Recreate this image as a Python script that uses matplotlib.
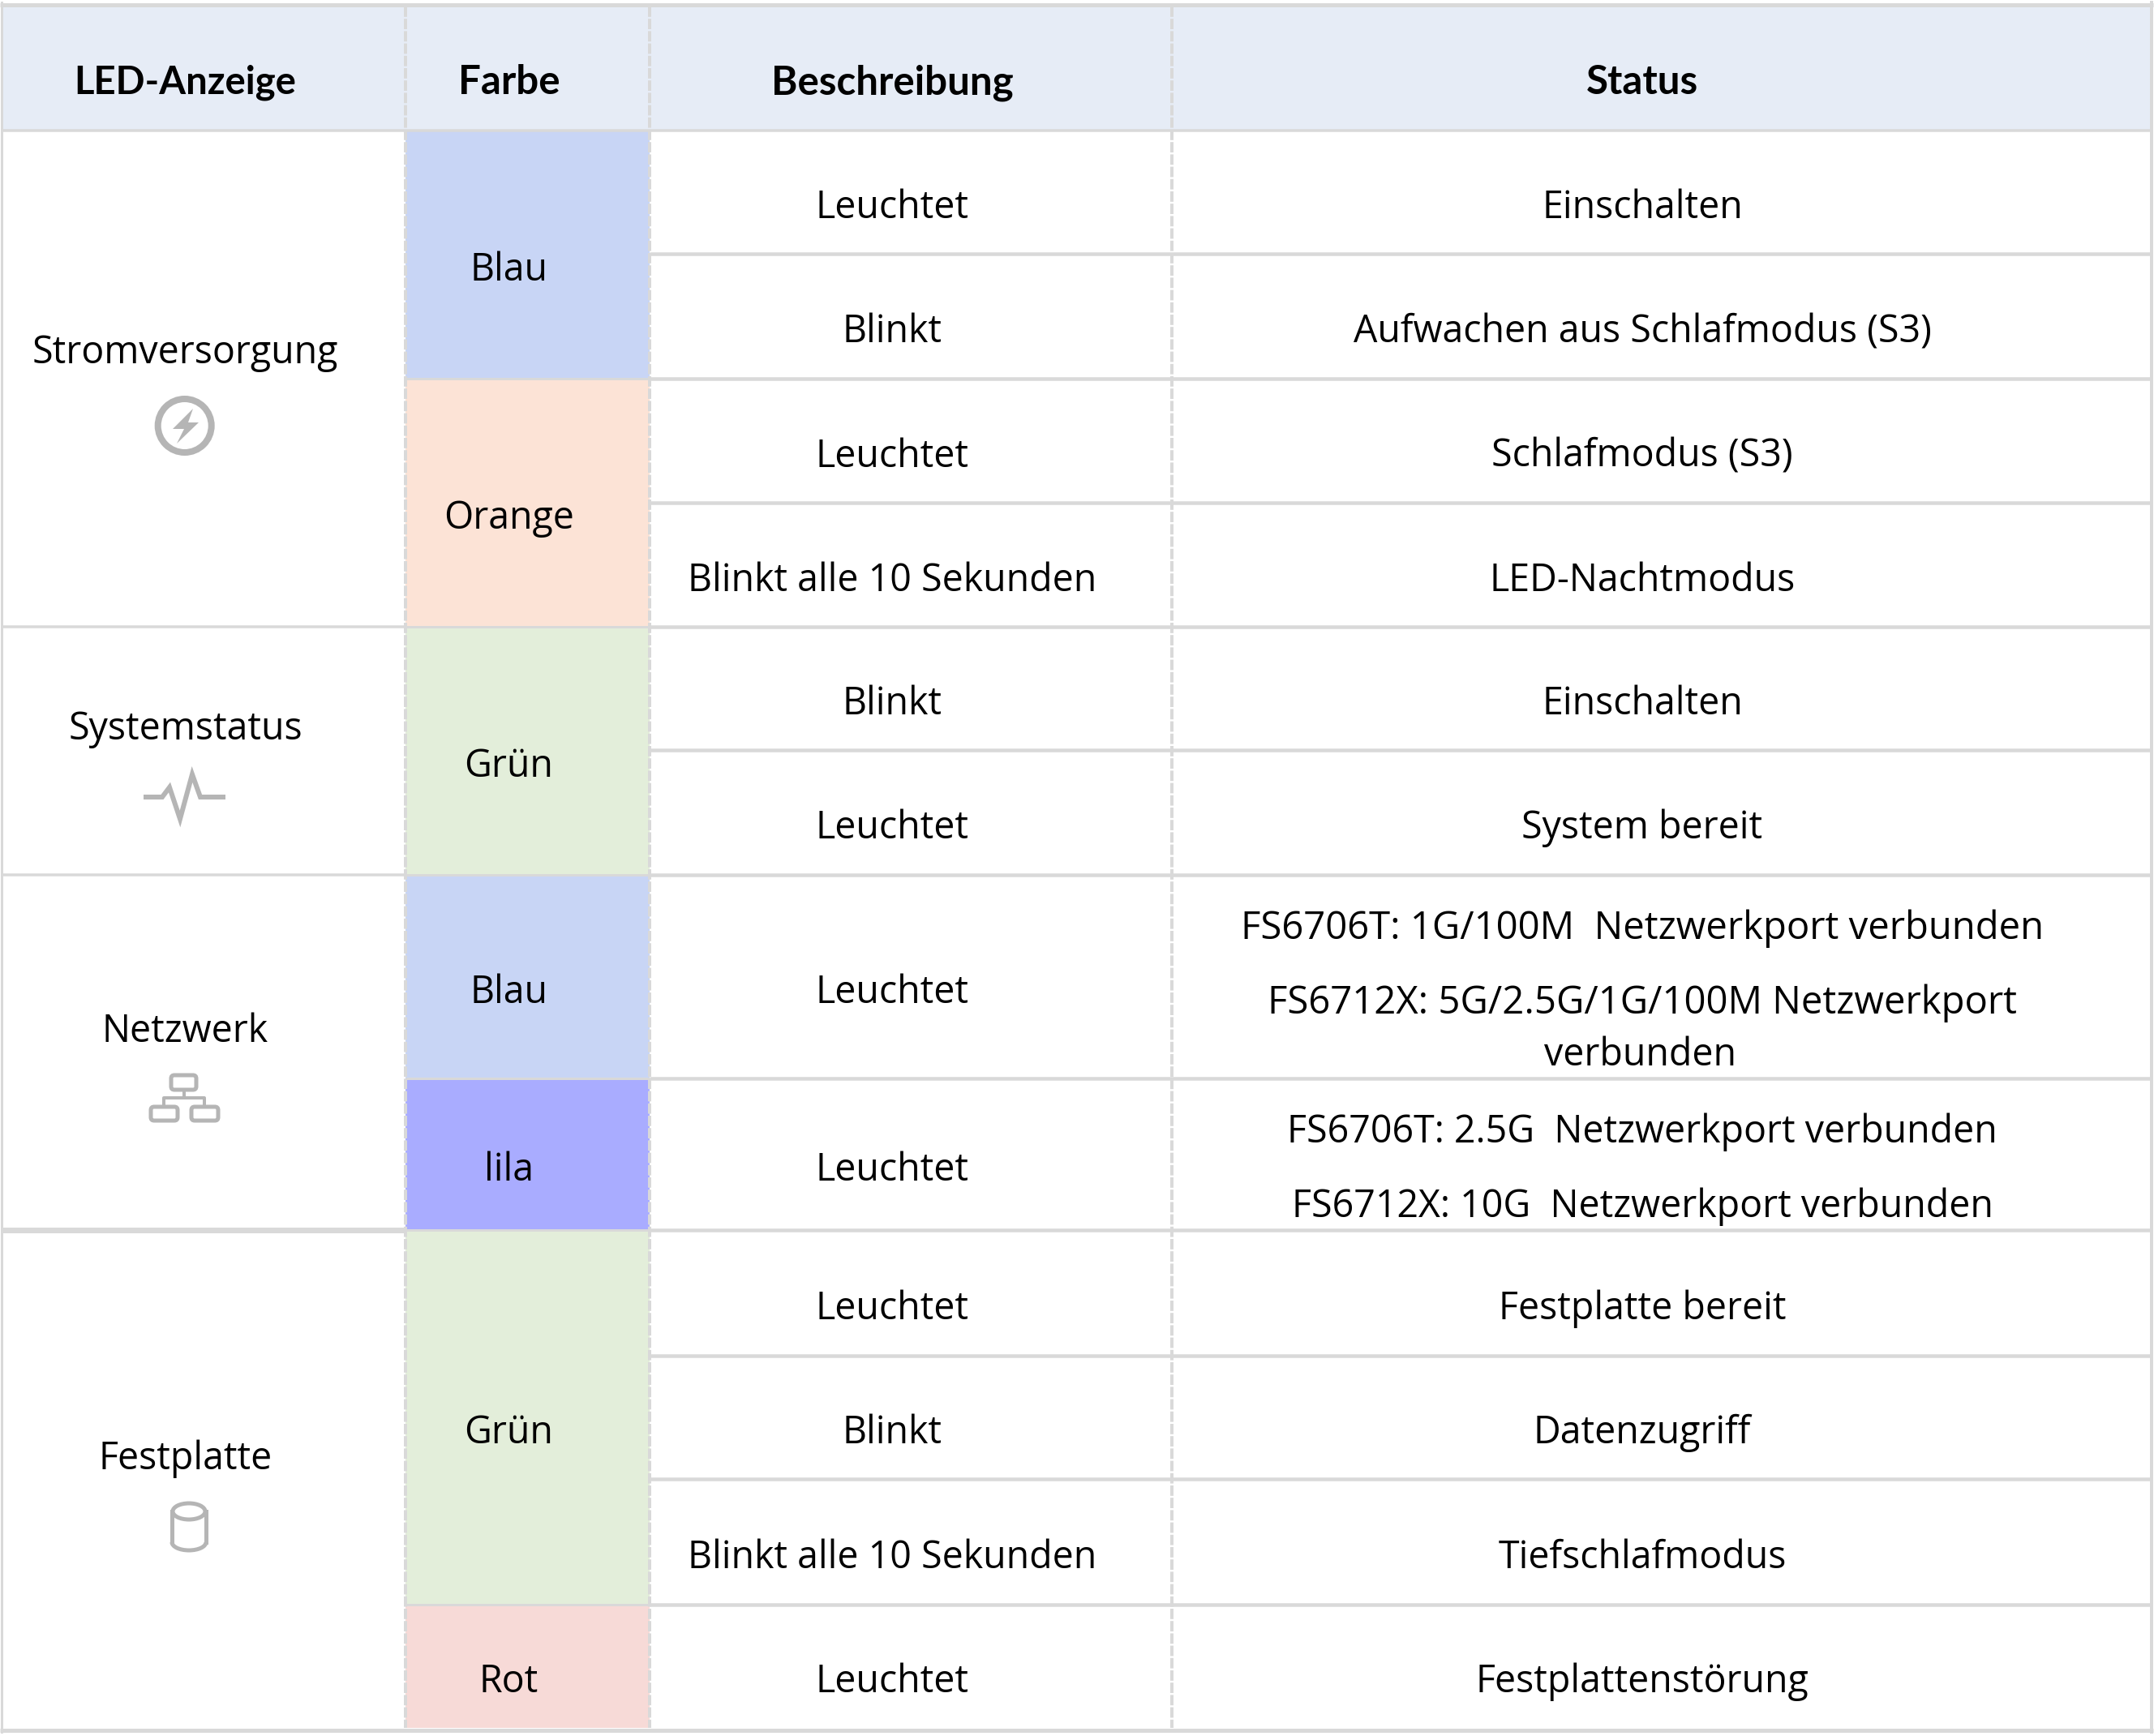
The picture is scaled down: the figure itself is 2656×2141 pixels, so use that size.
import matplotlib
matplotlib.use("Agg")
import matplotlib.pyplot as plt
from matplotlib.patches import Rectangle, Circle, Polygon, Ellipse, Arc, FancyBboxPatch

# table content
headers = ["LED-Anzeige", "Farbe", "Beschreibung", "Status"]
groups = ["Stromversorgung", "Systemstatus", "Netzwerk", "Festplatte"]
colors = ["Blau", "Orange", "Grün", "Blau", "lila", "Grün", "Rot"]
descriptions = ["Leuchtet", "Blinkt", "Leuchtet", "Blinkt alle 10 Sekunden", "Blinkt", "Leuchtet",
                "Leuchtet", "Leuchtet", "Leuchtet", "Blinkt", "Blinkt alle 10 Sekunden", "Leuchtet"]
status = ["Einschalten", "Aufwachen aus Schlafmodus (S3)", "Schlafmodus (S3)", "LED-Nachtmodus",
          "Einschalten", "System bereit", None, None,
          "Festplatte bereit", "Datenzugriff", "Tiefschlafmodus", "Festplattenstörung"]
status_multi = [
    ["FS6706T: 1G/100M  Netzwerkport verbunden", "FS6712X: 5G/2.5G/1G/100M Netzwerkport", "verbunden"],
    ["FS6706T: 2.5G  Netzwerkport verbunden", "FS6712X: 10G  Netzwerkport verbunden"],
]

# layout in pixels
W, H = 2656, 2141
col_x = [3, 500, 801, 1445, 2651]
row_y = [161, 313, 467, 620, 773, 925, 1079, 1330, 1517, 1672, 1824, 1979, 2131]
color_rows = [(0, 2), (2, 4), (4, 6), (6, 7), (7, 8), (8, 11), (11, 12)]
group_rows = [(0, 4), (4, 6), (6, 8), (8, 12)]
multi_y = [[1140, 1232, 1296], [1391, 1483]]
multi_dx = [[0, 0, -3], [0, 0]]
multi_sizes = [[34, 34, 33.5], [33.5, 33.5]]
group_text_y = [430, 894, 1267, 1794]
header_sizes = [34, 35.5, 35.5, 35.5]
fills = ["#C8D5F5", "#FCE3D6", "#E3EEDA", "#C8D5F5", "#A9ACFF", "#E3EEDA", "#F7DAD7"]

LINE = "#D9D9D9"
ICON = "#B5B5B5"
TEXT_SHIFT_X = -23
TEXT_SHIFT_Y = 14
FONT = "Open Sans"
SIZE = 33.5

plt.rcParams["font.family"] = FONT

fig = plt.figure(figsize=(W / 100, H / 100), dpi=100)
ax = fig.add_axes([0, 0, 1, 1])
ax.set_xlim(0, W)
ax.set_ylim(H, 0)
ax.axis("off")


def cell_text(x, y, s, size=SIZE):
    ax.text(x, y, s, ha="center", va="center_baseline", fontsize=size, color="black", zorder=5)


def hline(x0, x1, y, lw=4.5):
    ax.plot([x0, x1], [y, y], color=LINE, lw=lw * 0.72, solid_capstyle="butt", zorder=3)


# fills
ax.add_patch(Rectangle((col_x[0], 8), col_x[4] - col_x[0], row_y[0] - 8, fc="#E6ECF6", ec="none", zorder=1))
for (a, b), c in zip(color_rows, fills):
    ax.add_patch(Rectangle((col_x[1], row_y[a]), col_x[2] - col_x[1], row_y[b] - row_y[a], fc=c, ec="none", zorder=1))

# vertical dashed lines
for x in col_x[1:4]:
    ax.plot([x, x], [8, row_y[-1]], color=LINE, lw=4 * 0.72, linestyle=(0, (3.2, 0.6)), zorder=2)

# horizontal lines
hline(col_x[0], col_x[4], row_y[0], 3.5)
for y in row_y[1:-1]:
    hline(col_x[2], col_x[4], y)
for a, b in color_rows[:-1]:
    hline(col_x[1], col_x[2], row_y[b], 3)
for a, b in group_rows[:-1]:
    hline(col_x[0], col_x[1], row_y[b], 7 if b == 8 else 3.5)

# outer border
ax.plot([1.5, 1.5], [3, row_y[-1] + 5], color=LINE, lw=3 * 0.72, zorder=4)
ax.plot([col_x[4] + 2, col_x[4] + 2], [3, row_y[-1] + 5], color=LINE, lw=4 * 0.72, zorder=4)
hline(0, col_x[4] + 4, 5.5, 5)
hline(0, col_x[4] + 4, row_y[-1] + 2.5, 5)

# header
for i, h in enumerate(headers):
    cx = (col_x[i] + col_x[i + 1]) / 2 + TEXT_SHIFT_X
    ax.text(cx, 98, h, ha="center", va="center_baseline", fontsize=header_sizes[i], fontweight="bold",
            family="Lato", color="black", zorder=5)

# group labels
cx = (col_x[0] + col_x[1]) / 2 + TEXT_SHIFT_X
for g, y in zip(groups, group_text_y):
    cell_text(cx, y, g)

# colour labels
cx = (col_x[1] + col_x[2]) / 2 + TEXT_SHIFT_X
for (a, b), c in zip(color_rows, colors):
    cell_text(cx, (row_y[a] + row_y[b]) / 2 + TEXT_SHIFT_Y, c)

# descriptions and status
cx3 = (col_x[2] + col_x[3]) / 2 + TEXT_SHIFT_X
cx4 = (col_x[3] + col_x[4]) / 2 + TEXT_SHIFT_X
for i, (d, s) in enumerate(zip(descriptions, status)):
    y = (row_y[i] + row_y[i + 1]) / 2 + TEXT_SHIFT_Y
    cell_text(cx3, y, d)
    if s is not None:
        cell_text(cx4, y, s)
for lines, ys, dxs, sizes in zip(status_multi, multi_y, multi_dx, multi_sizes):
    for s, y, dx, size in zip(lines, ys, dxs, sizes):
        cell_text(cx4 + dx, y, s, size=size)

# power icon
ax.add_patch(Circle((227.7, 525), 33, fc="none", ec=ICON, lw=8 * 0.72, zorder=4))
bolt = [(238, 504), (213, 529), (227, 529), (218, 547), (245, 521), (232, 521)]
ax.add_patch(Polygon(bolt, closed=True, fc=ICON, ec="none", zorder=4))

# pulse icon
pulse = [(180, 983), (200, 983), (209, 971), (222, 1010), (237, 955), (247, 983), (275, 983)]
ax.plot(*zip(*pulse), color=ICON, lw=6 * 0.72, solid_joinstyle="miter", zorder=4)

# network icon
for x0, y0, w, h in [(211, 1326, 31, 18), (186, 1365, 33, 17), (236, 1365, 33, 17)]:
    ax.add_patch(FancyBboxPatch((x0, y0), w, h, boxstyle="round,pad=0,rounding_size=4",
                                fc="none", ec=ICON, lw=5 * 0.72, zorder=4))
ax.plot([227, 227], [1345, 1354], color=ICON, lw=4 * 0.72, zorder=4)
ax.plot([202, 202, 252, 252], [1365, 1354, 1354, 1365], color=ICON, lw=4 * 0.72, zorder=4)

# disk icon
ax.add_patch(Ellipse((233, 1864), 40, 20, fc="none", ec=ICON, lw=5 * 0.72, zorder=4))
ax.plot([212, 212], [1864, 1902], color=ICON, lw=5 * 0.72, zorder=4)
ax.plot([254, 254], [1864, 1902], color=ICON, lw=5 * 0.72, zorder=4)
ax.add_patch(Arc((233, 1902), 42, 20, theta1=0, theta2=180, ec=ICON, lw=5 * 0.72, zorder=4))

fig.savefig("out.png", dpi=100, facecolor="white")
